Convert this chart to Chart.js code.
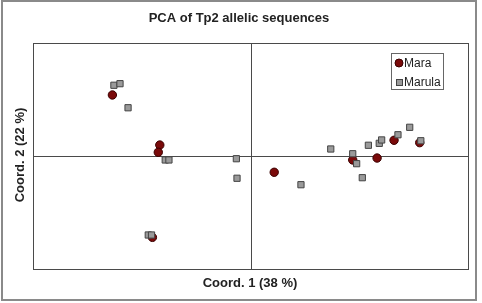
<!DOCTYPE html>
<html>
<head>
<meta charset="utf-8">
<script src="https://cdn.jsdelivr.net/npm/chart.js@4"></script>
<style>
  html, body { margin: 0; padding: 0; background: #fff; }
  #wrap { position: relative; width: 482px; height: 303px; }
</style>
</head>
<body>
<div id="wrap"><canvas id="pca" width="482" height="303"></canvas></div>
<script>
// Valores (coordenadas PCA, escala -1..1)
const maraX = [-0.635, -0.417, -0.424, -0.451, 0.109, 0.470, 0.582, 0.660, 0.778];
const maraY = [0.540, 0.097, 0.033, -0.720, -0.144, -0.035, -0.018, 0.139, 0.118];

const marulaX = [-0.628, -0.600, -0.563, -0.392, -0.375, -0.065, -0.062, -0.470, -0.455,
  0.232, 0.369, 0.470, 0.488, 0.514, 0.542, 0.592, 0.603, 0.678, 0.732, 0.783];
const marulaY = [0.626, 0.640, 0.427, -0.035, -0.035, -0.024, -0.197, -0.699, -0.699,
  -0.254, 0.062, 0.020, -0.068, -0.192, 0.095, 0.112, 0.142, 0.188, 0.254, 0.135];

const seriesNames = ['Mara', 'Marula'];
const chartTitle = 'PCA of Tp2 allelic sequences';
const xTitle = 'Coord. 1 (38 %)';
const yTitle = 'Coord. 2 (22 %)';

const toPoints = (xs, ys) => xs.map((x, i) => ({ x, y: ys[i] }));

// Moldura, eixos cruzados, títulos e legenda
const framePlugin = {
  id: 'frame',
  beforeDatasetsDraw(chart) {
    const { ctx, chartArea: a, scales } = chart;
    const x0 = Math.round(scales.x.getPixelForValue(0)) + 0.5;
    const y0 = Math.round(scales.y.getPixelForValue(0)) + 0.5;
    ctx.save();
    ctx.strokeStyle = '#4a4a4a';
    ctx.lineWidth = 1;
    ctx.beginPath();
    ctx.moveTo(x0, a.top); ctx.lineTo(x0, a.bottom);
    ctx.moveTo(a.left, y0); ctx.lineTo(a.right, y0);
    ctx.stroke();
    ctx.strokeRect(a.left + 0.5, a.top + 0.5, a.right - a.left, a.bottom - a.top);
    ctx.restore();
  },
  afterDraw(chart) {
    const { ctx } = chart;
    ctx.save();
    // moldura externa
    ctx.strokeStyle = '#8a8a8a';
    ctx.lineWidth = 2;
    ctx.strokeRect(2, 1, 474, 299);

    ctx.fillStyle = '#222';
    ctx.textAlign = 'center';
    ctx.textBaseline = 'middle';
    ctx.font = 'bold 13px "Liberation Sans", Arial, sans-serif';
    ctx.fillText(chartTitle, 239, 18);
    ctx.fillText(xTitle, 250, 283);
    ctx.translate(20, 155);
    ctx.rotate(-Math.PI / 2);
    ctx.fillText(yTitle, 0, 0);
    ctx.restore();

    // legenda
    ctx.save();
    ctx.fillStyle = '#fff';
    ctx.fillRect(391, 53, 52, 36);
    ctx.strokeStyle = '#666';
    ctx.lineWidth = 1;
    ctx.strokeRect(391.5, 53.5, 52, 36);
    ctx.fillStyle = '#7a0a0a';
    ctx.strokeStyle = '#3a0000';
    ctx.beginPath();
    ctx.arc(399, 63, 4, 0, Math.PI * 2);
    ctx.fill(); ctx.stroke();
    ctx.fillStyle = '#9a9a9a';
    ctx.strokeStyle = '#444';
    ctx.fillRect(396, 79, 7, 7);
    ctx.strokeRect(396.5, 79.5, 6, 6);
    ctx.fillStyle = '#222';
    ctx.textAlign = 'left';
    ctx.textBaseline = 'middle';
    ctx.font = '12px "Liberation Sans", Arial, sans-serif';
    ctx.fillText(seriesNames[0], 404, 63.5);
    ctx.fillText(seriesNames[1], 404, 82.5);
    ctx.restore();
  }
};

new Chart(document.getElementById('pca'), {
  type: 'scatter',
  data: {
    datasets: [
      {
        label: seriesNames[0],
        data: toPoints(maraX, maraY),
        pointStyle: 'circle',
        pointRadius: 4.2,
        backgroundColor: '#7a0a0a',
        borderColor: '#3a0000',
        borderWidth: 1,
        order: 2
      },
      {
        label: seriesNames[1],
        data: toPoints(marulaX, marulaY),
        pointStyle: 'rect',
        pointRadius: 4.4,
        backgroundColor: '#9a9a9a',
        borderColor: '#444',
        borderWidth: 1,
        order: 1
      }
    ]
  },
  options: {
    responsive: false,
    animation: false,
    events: [],
    layout: { padding: { left: 33, top: 43, right: 14, bottom: 34 } },
    plugins: { legend: { display: false }, tooltip: { enabled: false } },
    scales: {
      x: { type: 'linear', min: -1, max: 1, display: false },
      y: { type: 'linear', min: -1, max: 1, display: false }
    }
  },
  plugins: [framePlugin]
});
</script>
</body>
</html>
